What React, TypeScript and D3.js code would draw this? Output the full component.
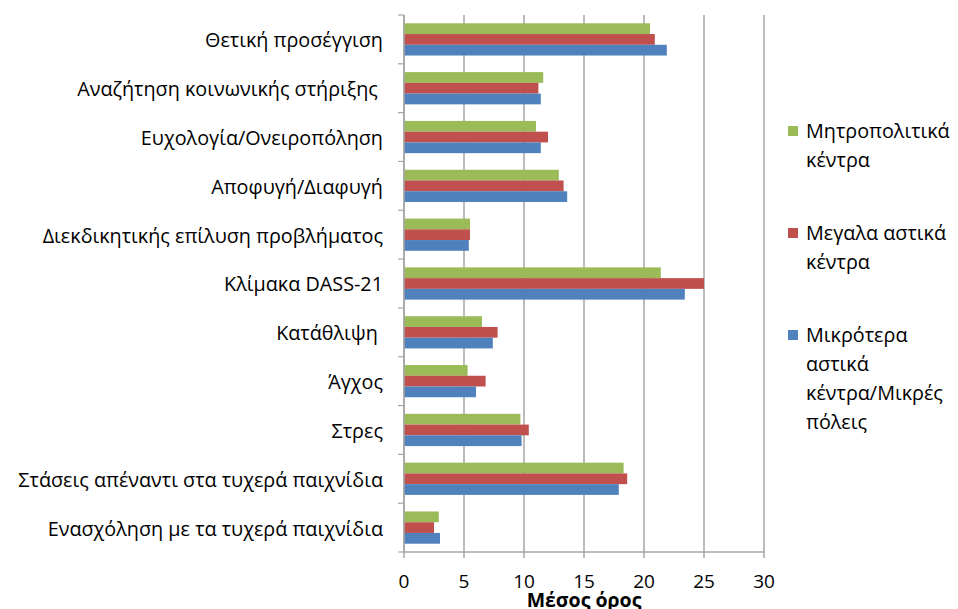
import React from "react";
import * as d3 from "d3";

const categories = [
  "Θετική προσέγγιση",
  "Αναζήτηση κοινωνικής στήριξης ",
  "Ευχολογία/Ονειροπόληση",
  "Αποφυγή/Διαφυγή",
  "Διεκδικητικής επίλυση προβλήματος",
  "Κλίμακα DASS-21",
  "Κατάθλιψη ",
  "Άγχος",
  "Στρες",
  "Στάσεις απέναντι στα τυχερά παιχνίδια",
  "Ενασχόληση με τα τυχερά παιχνίδια",
];

const metro = [20.5, 11.6, 11.0, 12.9, 5.5, 21.4, 6.5, 5.3, 9.7, 18.3, 2.9];
const large = [20.9, 11.2, 12.0, 13.3, 5.5, 25.0, 7.8, 6.8, 10.4, 18.6, 2.5];
const small = [21.9, 11.4, 11.4, 13.6, 5.4, 23.4, 7.4, 6.0, 9.8, 17.9, 3.0];

const seriesNames = [
  ["Μητροπολιτικά", "κέντρα"],
  ["Μεγαλα αστικά", "κέντρα"],
  ["Μικρότερα", "αστικά", "κέντρα/Μικρές", "πόλεις"],
];
const seriesValues = [metro, large, small];
const seriesColors = ["#9BBB59", "#C0504D", "#4F81BD"];
const xTicks = [0, 5, 10, 15, 20, 25, 30];
const axisTitle = "Μέσος όρος";

const FONT = "'Open Sans', 'Noto Sans', sans-serif";

export default function App() {
  const W = 958;
  const H = 609;
  const x = d3.scaleLinear().domain([0, 30]).range([404, 764]);
  const y = d3
    .scaleBand<string>()
    .domain(categories)
    .range([15, 552])
    .paddingInner(0.34)
    .paddingOuter(0.17);
  const inner = d3
    .scaleBand<number>()
    .domain([0, 1, 2])
    .range([0, y.bandwidth()]);
  const step = y.step();
  const gridColor = "#A6A6A6";
  const legendTops = [131, 233, 335];
  const lineH = 29;

  return (
    <svg
      width={W}
      height={H}
      style={{ position: "absolute", left: 0, top: 0, background: "#fff" }}
    >
      {xTicks.map((t) => (
        <line
          key={"g" + t}
          x1={x(t)}
          x2={x(t)}
          y1={15}
          y2={558}
          stroke={gridColor}
          strokeWidth={1.5}
        />
      ))}
      <line x1={x(0)} x2={x(30)} y1={552} y2={552} stroke={gridColor} strokeWidth={1.5} />
      {d3.range(categories.length + 1).map((i) => (
        <line
          key={"yt" + i}
          x1={398}
          x2={404}
          y1={15 + i * step}
          y2={15 + i * step}
          stroke={gridColor}
          strokeWidth={1.2}
        />
      ))}
      {categories.map((c, ci) =>
        seriesValues.map((vals, si) => (
          <rect
            key={c + si}
            x={x(0)}
            y={(y(c) as number) + (inner(si) as number)}
            width={x(vals[ci]) - x(0)}
            height={inner.bandwidth()}
            fill={seriesColors[si]}
          />
        ))
      )}
      <line x1={404} x2={404} y1={15} y2={552} stroke={gridColor} strokeWidth={1.5} />
      {categories.map((c) => (
        <text
          key={"l" + c}
          x={383}
          y={(y(c) as number) + y.bandwidth() / 2 + 1}
          dy="0.35em"
          textAnchor="end"
          fontFamily={FONT}
          fontSize={19.8}
          fill="#000"
          style={{ whiteSpace: "pre" }}
        >
          {c}
        </text>
      ))}
      {xTicks.map((t) => (
        <text
          key={"xt" + t}
          x={x(t)}
          y={581}
          dy="0.35em"
          textAnchor="middle"
          fontFamily={FONT}
          fontSize={19}
          fill="#000"
        >
          {t}
        </text>
      ))}
      <text
        x={584}
        y={607}
        textAnchor="middle"
        fontFamily={FONT}
        fontSize={19.5}
        fontWeight="bold"
        fill="#000"
      >
        {axisTitle}
      </text>
      {seriesNames.map((lines, si) => (
        <g key={"lg" + si}>
          <rect
            x={788}
            y={legendTops[si] - 5}
            width={10}
            height={10}
            fill={seriesColors[si]}
          />
          {lines.map((ln, li) => (
            <text
              key={li}
              x={806}
              y={legendTops[si] + li * lineH}
              dy="0.35em"
              fontFamily={FONT}
              fontSize={19.8}
              fill="#000"
            >
              {ln}
            </text>
          ))}
        </g>
      ))}
    </svg>
  );
}
